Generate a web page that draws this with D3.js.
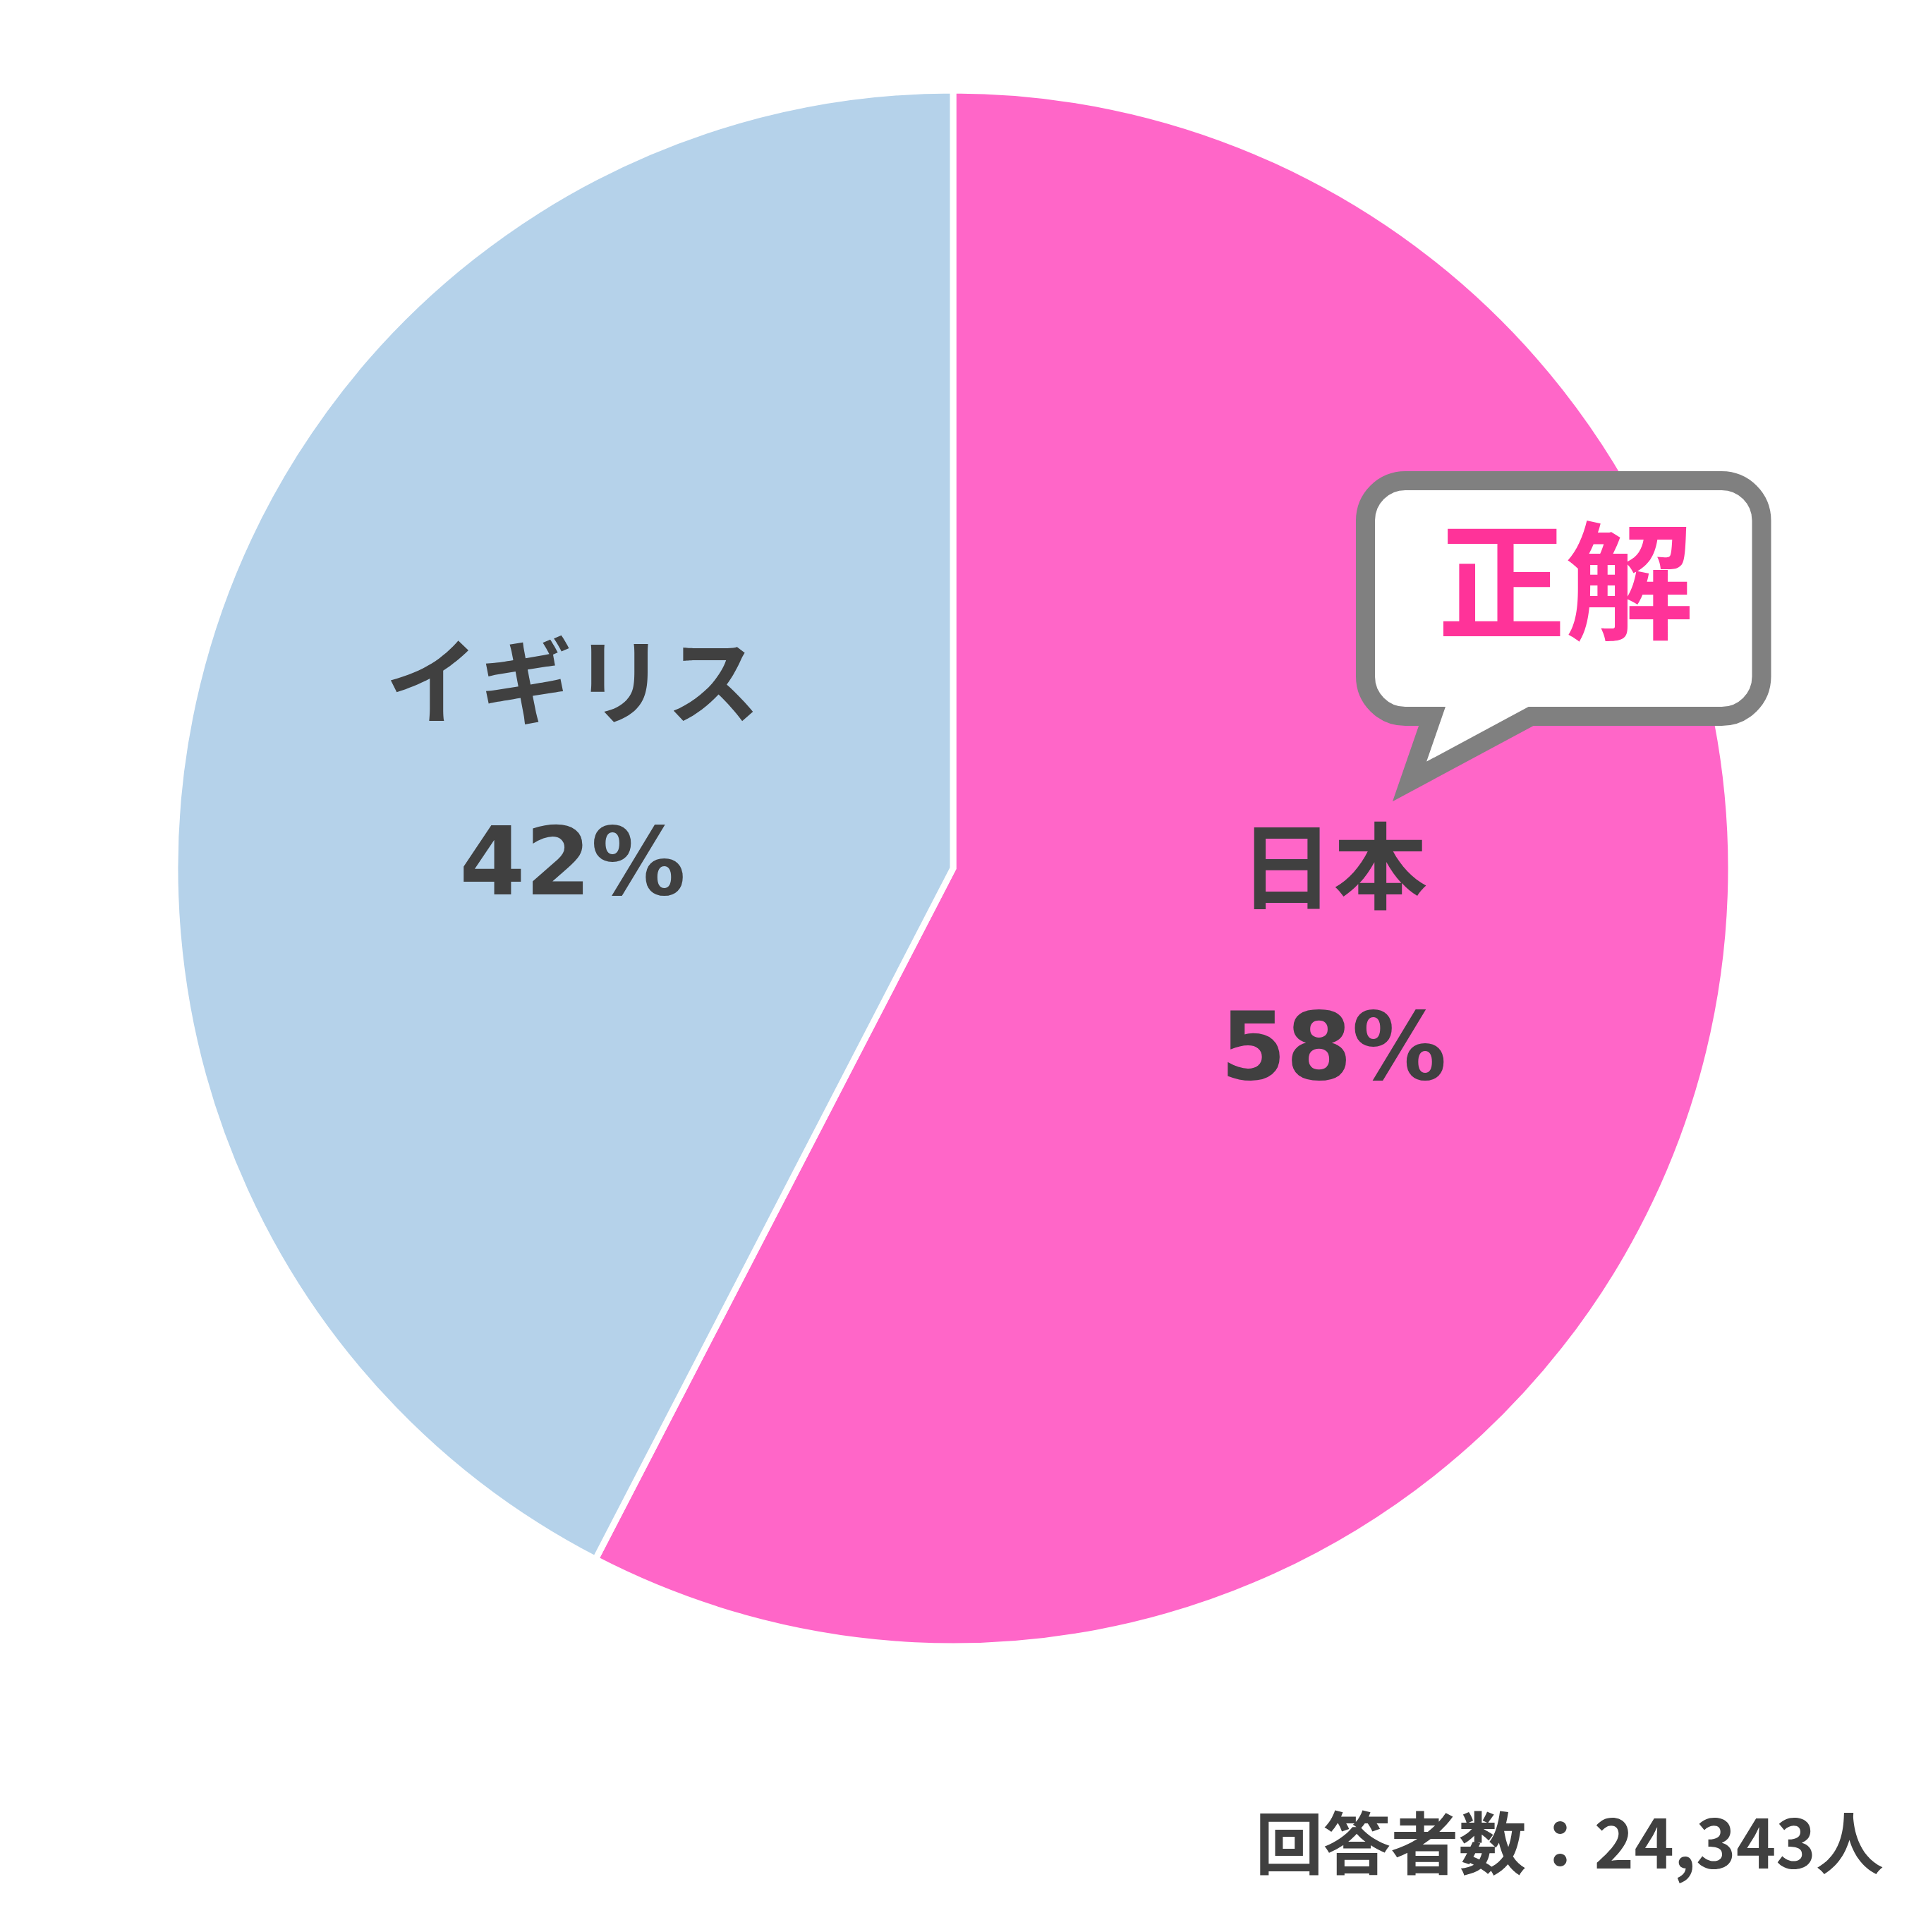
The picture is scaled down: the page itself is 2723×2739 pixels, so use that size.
<!DOCTYPE html>
<html>
<head>
<meta charset="utf-8">
<script src="https://cdn.jsdelivr.net/npm/d3@7"></script>
<style>
  html, body { margin: 0; padding: 0; background: #ffffff; }
  svg { display: block; }
</style>
</head>
<body>
<script>
// ---- data ----
const categories = ["日本", "イギリス"];
const values = [57.6, 42.4];
const percentLabels = ["58%", "42%"];
const colors = ["#FF66C8", "#B5D2EA"];
const calloutText = "正解";
const footnote = "回答者数：24,343人";

// ---- layout ----
const W = 2723, H = 2739;
const cx = 1351, cy = 1231, R = 1103;
const labelR = 555;
const lineGap = 126;

const svg = d3.select("body").append("svg")
  .attr("width", W).attr("height", H)
  .attr("viewBox", `0 0 ${W} ${H}`);

svg.append("rect").attr("width", W).attr("height", H).attr("fill", "#ffffff");

const pie = d3.pie().sort(null).value(d => d.value).startAngle(0).endAngle(2 * Math.PI);
const arcs = pie(categories.map((c, i) => ({ name: c, value: values[i], pct: percentLabels[i], color: colors[i] })));

const arc = d3.arc().innerRadius(0).outerRadius(R);
const labelArc = d3.arc().innerRadius(labelR).outerRadius(labelR);

const g = svg.append("g").attr("transform", `translate(${cx},${cy})`);

g.selectAll("path.slice")
  .data(arcs)
  .join("path")
  .attr("class", "slice")
  .attr("d", arc)
  .attr("fill", d => d.data.color)
  .attr("stroke", "#ffffff")
  .attr("stroke-width", 9)
  .attr("stroke-linejoin", "miter");

const lbl = g.selectAll("g.lbl")
  .data(arcs)
  .join("g")
  .attr("class", "lbl")
  .attr("transform", d => `translate(${labelArc.centroid(d)})`);

lbl.append("text")
  .attr("y", -lineGap - 16)
  .attr("text-anchor", "middle")
  .attr("dominant-baseline", "central")
  .attr("font-family", "'Noto Sans CJK JP', sans-serif")
  .attr("font-weight", 700)
  .attr("font-size", 133)
  .attr("fill", "#404040")
  .text(d => d.data.name);

lbl.append("text")
  .attr("y", lineGap + 42)
  .attr("text-anchor", "middle")
  .attr("font-family", "'DejaVu Sans', Verdana, sans-serif")
  .attr("font-weight", 700)
  .attr("font-size", 134)
  .attr("fill", "#404040")
  .text(d => d.data.pct);

// ---- callout bubble ----
const bx0 = 1935.5, bx1 = 2497, by0 = 681.5, by1 = 1015.5, br = 56.5;
const tailL = 2030, tailR = 2170, tipX = 1998, tipY = 1108;
const p = d3.path();
p.moveTo(bx0 + br, by0);
p.lineTo(bx1 - br, by0);
p.arcTo(bx1, by0, bx1, by0 + br, br);
p.lineTo(bx1, by1 - br);
p.arcTo(bx1, by1, bx1 - br, by1, br);
p.lineTo(tailR, by1);
p.lineTo(tipX, tipY);
p.lineTo(tailL, by1);
p.lineTo(bx0 + br, by1);
p.arcTo(bx0, by1, bx0, by1 - br, br);
p.lineTo(bx0, by0 + br);
p.arcTo(bx0, by0, bx0 + br, by0, br);
p.closePath();

svg.append("path")
  .attr("d", p.toString())
  .attr("fill", "#ffffff")
  .attr("stroke", "#808080")
  .attr("stroke-width", 27)
  .attr("stroke-linejoin", "miter")
  .attr("stroke-miterlimit", 4);

svg.append("text")
  .attr("x", 2219).attr("y", 813)
  .attr("text-anchor", "middle")
  .attr("dominant-baseline", "central")
  .attr("font-family", "'Noto Sans CJK JP', sans-serif")
  .attr("font-weight", 700)
  .attr("font-size", 181)
  .attr("fill", "#FF3399")
  .text(calloutText);

// ---- footnote ----
svg.append("text")
  .attr("x", 2670).attr("y", 2649)
  .attr("text-anchor", "end")
  .attr("font-family", "'Noto Sans CJK JP', sans-serif")
  .attr("font-weight", 700)
  .attr("font-size", 96)
  .attr("fill", "#404040")
  .text(footnote);
</script>
</body>
</html>
